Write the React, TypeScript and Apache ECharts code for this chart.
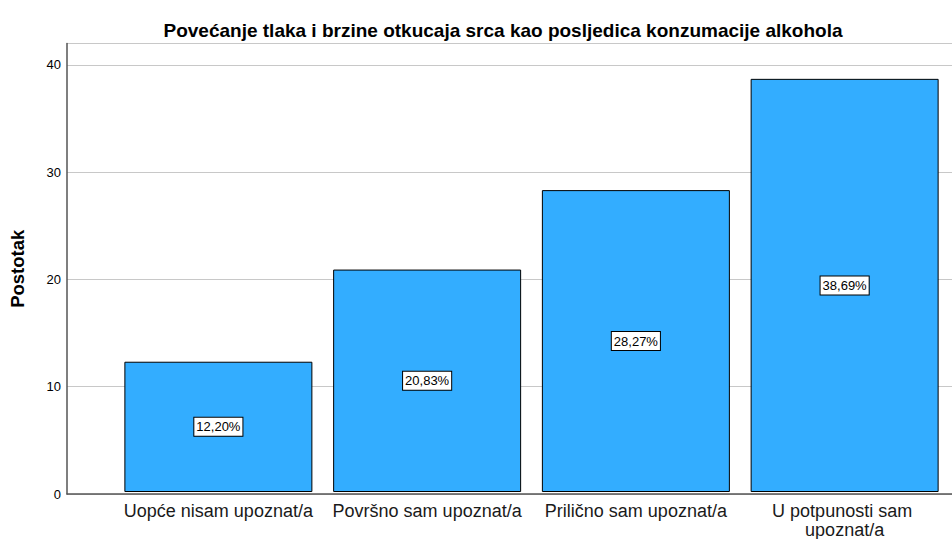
import React, { useEffect, useRef } from "react";
import * as echarts from "echarts";

const title = "Povećanje tlaka i brzine otkucaja srca kao posljedica konzumacije alkohola";
const categories = [
  "Uopće nisam upoznat/a",
  "Površno sam upoznat/a",
  "Prilično sam upoznat/a",
  "U potpunosti sam upoznat/a",
];
const percentages = [12.2, 20.83, 28.27, 38.69];
const yAxisName = "Postotak";
const yMin = 0;
const yMax = 42;
const yInterval = 10;

const FONT = "'Liberation Sans', Arial, sans-serif";

export default function App() {
  const ref = useRef<HTMLDivElement>(null);
  useEffect(() => {
    if (!ref.current) return;
    const chart = echarts.init(ref.current, undefined, { renderer: "svg" });
    chart.setOption({
      animation: false,
      backgroundColor: "#ffffff",
      title: {
        text: title,
        left: 498,
        top: 16,
        textAlign: "center",
        textStyle: { fontFamily: FONT, fontSize: 19, fontWeight: "bold", color: "#000" },
      },
      grid: [
        { left: 67, right: 0, top: 43.5, bottom: 45, containLabel: false },
        { left: 114, right: 3, top: 43.5, bottom: 45, containLabel: false },
      ],
      xAxis: [
        {
          type: "category",
          gridIndex: 0,
          data: [""],
          axisLine: { show: true, lineStyle: { color: "#555", width: 1.5 } },
          axisTick: { show: false },
          axisLabel: { show: false },
        },
        {
          type: "category",
          gridIndex: 1,
          data: categories,
          axisLine: { show: false },
          axisTick: { show: false },
          axisLabel: {
            margin: 9,
            fontFamily: FONT,
            fontSize: 18,
            color: "#1a1a1a",
            lineHeight: 19,
            interval: 0,
            width: 206,
            overflow: "break",
          },
        },
      ],
      yAxis: [
        {
          type: "value",
          gridIndex: 0,
          min: yMin,
          max: yMax,
          interval: yInterval,
          name: yAxisName,
          nameLocation: "middle",
          nameGap: 40,
          nameTextStyle: { fontFamily: FONT, fontSize: 18.5, fontWeight: "bold", color: "#000" },
          axisLine: { show: true, lineStyle: { color: "#555", width: 1.5 } },
          axisTick: { show: false },
          axisLabel: {
            margin: 6,
            fontFamily: FONT,
            fontSize: 13,
            color: "#000",
            showMaxLabel: false,
          },
          splitLine: { show: true, lineStyle: { color: "#c8c8c8", width: 1 } },
        },
        {
          type: "value",
          gridIndex: 1,
          min: yMin,
          max: yMax,
          interval: yInterval,
          show: false,
          splitLine: { show: false },
        },
      ],
      series: [
        {
          type: "bar",
          xAxisIndex: 1,
          yAxisIndex: 1,
          data: percentages,
          barWidth: 188,
          itemStyle: { color: "#33adff", borderColor: "#000", borderWidth: 1 },
          label: {
            show: true,
            position: "inside",
            formatter: (p: any) => p.value.toFixed(2).replace(".", ",") + "%",
            fontFamily: FONT,
            fontSize: 13,
            color: "#000",
            backgroundColor: "#fff",
            borderColor: "#000",
            borderWidth: 1,
            padding: [3, 2, 2, 2],
          },
        },
      ],
    });
    return () => chart.dispose();
  }, []);
  return (
    <div
      ref={ref}
      style={{ position: "absolute", left: 0, top: 0, width: 952, height: 539 }}
    />
  );
}
